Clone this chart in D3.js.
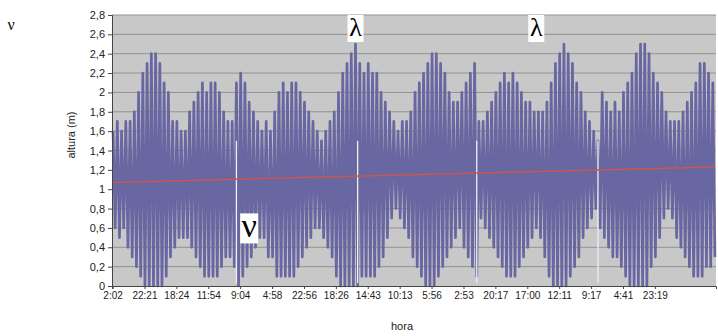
<!DOCTYPE html>
<html>
<head>
<meta charset="utf-8">
<script src="https://cdn.jsdelivr.net/npm/d3@7/dist/d3.min.js"></script>
<style>
  body { margin: 0; background: #fff; }
  svg { font-family: "Liberation Sans", Arial, sans-serif; }
</style>
</head>
<body>
<svg width="718" height="336"></svg>
<script>
// alturas (m) de cada pleamar y bajamar, un valor por ciclo de marea
const pleamar = [1.6,1.7,1.6,1.7,1.7,1.8,2.0,2.2,2.3,2.4,
                 2.4,2.3,2.1,2.0,1.7,1.7,1.6,1.6,1.8,1.9,
                 2.0,2.1,2.0,2.1,2.1,2.0,1.8,1.7,1.7,2.1,
                 2.2,2.1,1.9,1.8,1.7,1.6,1.7,1.6,1.8,2.0,
                 2.1,2.0,2.1,2.1,2.0,1.9,1.8,1.7,1.6,1.5,
                 1.6,1.7,1.8,2.0,2.2,2.3,2.4,2.5,2.3,2.2,
                 2.3,2.2,2.2,2.0,1.9,1.8,1.7,1.6,1.7,1.7,
                 1.8,2.0,2.1,2.2,2.3,2.4,2.4,2.3,2.2,2.0,
                 1.9,1.9,2.0,2.1,2.2,2.3,1.7,1.7,1.8,1.9,
                 2.0,2.1,2.2,2.1,2.2,2.1,2.0,1.9,1.9,1.8,
                 1.8,1.8,1.9,2.1,2.3,2.4,2.5,2.4,2.3,2.1,
                 2.0,1.8,1.7,1.6,1.5,2.0,1.9,1.8,1.9,1.8,
                 2.0,2.1,2.2,2.4,2.5,2.5,2.4,2.2,2.1,2.0,
                 1.8,1.7,1.7,1.7,1.8,1.9,2.0,2.1,2.3,2.3,
                 2.2,2.1];
const bajamar = [0.6,0.5,0.6,0.4,0.3,0.2,0.1,0.0,0.0,0.0,
                 0.0,0.0,0.1,0.3,0.4,0.5,0.5,0.5,0.4,0.3,
                 0.2,0.1,0.1,0.1,0.1,0.2,0.3,0.3,0.2,0.0,
                 0.1,0.2,0.3,0.4,0.5,0.5,0.3,0.3,0.1,0.1,
                 0.1,0.1,0.1,0.2,0.3,0.4,0.5,0.6,0.6,0.5,
                 0.4,0.3,0.1,0.0,0.0,0.0,0.0,0.0,0.1,0.1,
                 0.1,0.1,0.2,0.3,0.5,0.7,0.8,0.7,0.6,0.5,
                 0.3,0.2,0.1,0.0,0.0,0.0,0.1,0.2,0.3,0.4,
                 0.5,0.6,0.4,0.3,0.2,0.1,0.7,0.6,0.5,0.4,
                 0.3,0.2,0.1,0.1,0.1,0.2,0.3,0.4,0.5,0.6,
                 0.5,0.3,0.1,0.0,0.0,0.0,0.0,0.1,0.2,0.3,
                 0.5,0.6,0.7,0.8,0.6,0.5,0.4,0.3,0.3,0.2,
                 0.1,0.0,0.0,0.0,0.0,0.0,0.2,0.3,0.5,0.7,
                 0.8,0.7,0.5,0.4,0.3,0.2,0.1,0.1,0.1,0.2,
                 0.2,0.3];
// puntos de la serie donde el registro se corta (raya blanca)
const huecos = [58, 115, 171, 228];
const horas = ["2:02","22:21","18:24","11:54","9:04","4:58","22:56","18:26","14:43",
               "10:13","5:56","2:53","20:17","17:00","12:11","9:17","4:41","23:19"];
const pasoEtiqueta = 15;
const ticksAltura = [0,0.2,0.4,0.6,0.8,1,1.2,1.4,1.6,1.8,2,2.2,2.4,2.6,2.8];
const tendencia = [1.07, 1.23];   // recta de tendencia, inicio y final

// serie alternando pleamar / bajamar
const serie = [];
pleamar.forEach((p, j) => { serie.push(p); serie.push(bajamar[j]); });

var svg = d3.select("svg"),
    margin = {top: 15, right: 2, bottom: 50, left: 112},
    width = +svg.attr("width") - margin.left - margin.right,
    height = +svg.attr("height") - margin.top - margin.bottom;

var fmt = d3.formatLocale({decimal: ",", thousands: ".", grouping: [3], currency: ["", "€"]}).format("~g");

var x = d3.scaleBand().domain(d3.range(serie.length)).range([0, width]);
var y = d3.scaleLinear().domain([0, 2.8]).range([height, 0]);
var cx = function(i) { return x(i) + x.bandwidth() / 2; };

var g = svg.append("g").attr("transform", "translate(" + margin.left + "," + margin.top + ")");

g.append("rect").attr("width", width).attr("height", height).attr("fill", "#c9c8c8");

g.selectAll(".grid").data(ticksAltura.slice(1))
  .enter().append("line")
    .attr("x1", 0).attr("x2", width)
    .attr("y1", function(d) { return y(d); }).attr("y2", function(d) { return y(d); })
    .attr("stroke", "#929292").attr("stroke-width", 1);

g.append("path")
    .datum(serie)
    .attr("fill", "none")
    .attr("stroke", "#6967a1")
    .attr("stroke-width", 2.7)
    .attr("stroke-linejoin", "round")
    .attr("d", d3.line().x(function(d, i) { return cx(i); }).y(function(d) { return y(d); }));

g.selectAll(".hueco").data(huecos)
  .enter().append("line")
    .attr("x1", function(d) { return cx(d); }).attr("x2", function(d) { return cx(d); })
    .attr("y1", y(0.03)).attr("y2", y(1.5))
    .attr("stroke", "#eeeef4").attr("stroke-width", 1.3);

g.append("path")
    .datum(tendencia)
    .attr("fill", "none")
    .attr("stroke", "#c9564f")
    .attr("stroke-width", 1.4)
    .attr("d", d3.line().x(function(d, i) { return cx(i * (serie.length - 1)); }).y(function(d) { return y(d); }));

var ya = g.append("g")
    .call(d3.axisLeft(y).tickValues(ticksAltura).tickSize(4).tickFormat(fmt));
ya.selectAll("text").attr("font-size", 11).attr("fill", "#222");
ya.selectAll("line, path").attr("stroke", "#444");

var xa = g.append("g")
    .attr("transform", "translate(0," + height + ")")
    .call(d3.axisBottom(x)
      .tickValues(horas.map(function(h, k) { return k * pasoEtiqueta; }))
      .tickSize(3)
      .tickFormat(function(d) { return horas[d / pasoEtiqueta]; }));
xa.selectAll("text").attr("font-size", 10).attr("fill", "#222");
xa.selectAll("line, path").attr("stroke", "#444");

svg.append("text")
    .attr("transform", "translate(75," + (margin.top + 120) + ") rotate(-90)")
    .attr("text-anchor", "middle").attr("font-size", 11).attr("fill", "#222")
    .text("altura (m)");

svg.append("text")
    .attr("x", margin.left + width / 2 - 12).attr("y", 330)
    .attr("text-anchor", "middle").attr("font-size", 11).attr("fill", "#222")
    .text("hora");

// anotaciones
svg.append("text").attr("x", 11).attr("y", 30).attr("text-anchor", "middle")
    .attr("font-family", "Liberation Serif, serif").attr("font-size", 16).text("ν");

function etiqueta(texto, i, v, w, h, fs) {
  var px = margin.left + cx(i), py = margin.top + y(v);
  svg.append("rect").attr("x", px - w / 2).attr("y", py).attr("width", w).attr("height", h).attr("fill", "#fff");
  svg.append("text").attr("x", px).attr("y", py + h - 6).attr("text-anchor", "middle")
      .attr("font-family", "Liberation Serif, serif").attr("font-size", fs).text(texto);
}
etiqueta("λ", 114, 2.8, 16, 27, 26);
etiqueta("λ", 199, 2.8, 16, 27, 26);
etiqueta("ν", 64, 0.75, 18, 30, 34);
</script>
</body>
</html>
